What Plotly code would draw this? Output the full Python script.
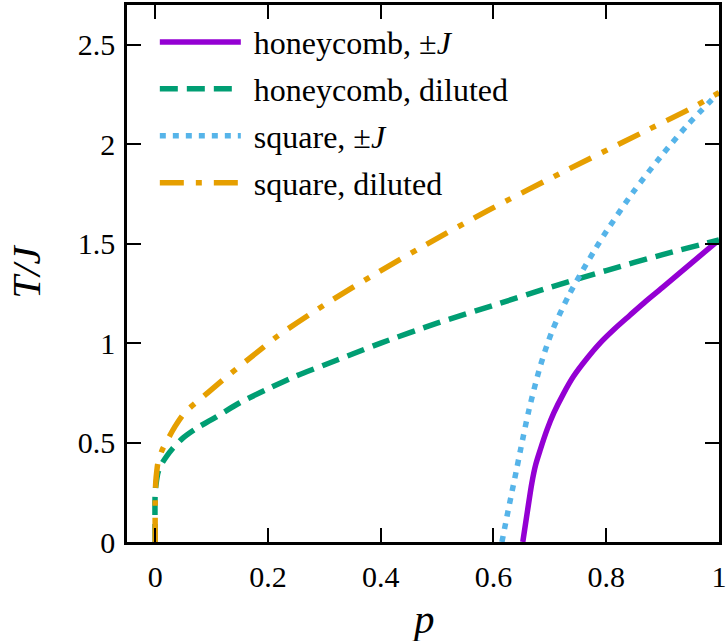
import plotly.graph_objects as go

# ---- data ----
p_hc_pm = [0.652, 0.660, 0.668, 0.675, 0.683, 0.695, 0.707, 0.724, 0.742, 0.765,
           0.789, 0.815, 0.842, 0.870, 0.900, 0.950, 1.0]
T_hc_pm = [0.0, 0.15, 0.296, 0.39, 0.464, 0.565, 0.649, 0.745, 0.833, 0.92,
           1.00, 1.072, 1.14, 1.21, 1.28, 1.40, 1.519]

p_hc_dil = [0.0, 0.0, 0.002, 0.005, 0.011, 0.02, 0.031, 0.05, 0.075, 0.1, 0.15,
            0.2, 0.25, 0.3, 0.35, 0.4, 0.5, 0.6, 0.7, 0.8, 0.9, 1.0]
T_hc_dil = [0.0, 0.25, 0.30, 0.35, 0.39, 0.43, 0.47, 0.525, 0.575, 0.615, 0.70,
            0.77, 0.835, 0.89, 0.945, 1.0, 1.10, 1.19, 1.28, 1.365, 1.445, 1.519]

p_sq_pm = [0.615, 0.624, 0.633, 0.641, 0.648, 0.663, 0.683, 0.704, 0.733, 0.754,
           0.780, 0.801, 0.848, 0.896, 0.943, 1.0]
T_sq_pm = [0.0, 0.13, 0.255, 0.365, 0.464, 0.665, 0.884, 1.06, 1.237, 1.345,
           1.47, 1.565, 1.76, 1.935, 2.093, 2.26]

p_sq_dil = [0.0, 0.0, 0.001, 0.003, 0.005, 0.012, 0.022, 0.035, 0.052, 0.093, 0.135,
            0.176, 0.217, 0.306, 0.394, 0.471, 0.589, 0.73, 0.872, 0.95, 1.0]
T_sq_dil = [0.0, 0.2, 0.3, 0.36, 0.40, 0.46, 0.514, 0.58, 0.649, 0.75, 0.85,
            0.943, 1.035, 1.203, 1.354, 1.48, 1.665, 1.87, 2.07, 2.18, 2.26]

names = ["honeycomb, ±<i>J</i>", "honeycomb, diluted", "square, ±<i>J</i>", "square, diluted"]
x_ticks = [0, 0.2, 0.4, 0.6, 0.8, 1]
y_ticks = [0, 0.5, 1, 1.5, 2, 2.5]

FONT = "Liberation Serif"
LW = 5.5

fig = go.Figure()
series = [
    (p_hc_pm, T_hc_pm, "#9400D3", "solid"),
    (p_hc_dil, T_hc_dil, "#009E73", "18px,9px"),
    (p_sq_pm, T_sq_pm, "#56B4E9", "6px,7px"),
    (p_sq_dil, T_sq_dil, "#E69F00", "24px,12px,6px,12px"),
]
for i, (xs, ys, col, dash) in enumerate(series):
    fig.add_trace(go.Scatter(x=xs, y=ys, mode="lines", name="\u00a0" + names[i],
                             legendgroup=f"g{i}",
                             line=dict(color=col, width=LW, dash=dash,
                                       shape="spline", smoothing=0.8)))

axis_common = dict(showline=True, linecolor="black", linewidth=2.5, mirror="allticks",
                   ticks="inside", ticklen=14, tickwidth=2, tickcolor="black",
                   showgrid=False, zeroline=False, automargin=False,
                   tickfont=dict(family=FONT, size=30, color="black"))

fig.update_xaxes(range=[-0.05, 1], tickvals=x_ticks, ticktext=[str(v) for v in x_ticks],
                 ticklabelstandoff=6, **axis_common)
fig.update_yaxes(range=[0, 2.7], tickvals=y_ticks, ticktext=[str(v) for v in y_ticks],
                 ticklabelstandoff=3, **axis_common)

fig.update_layout(
    width=728, height=641,
    margin=dict(l=127, r=9, t=5, b=99, autoexpand=False),
    plot_bgcolor="white", paper_bgcolor="white",
    font=dict(family=FONT, color="black"),
    legend=dict(x=0.047, y=0.982, xanchor="left", yanchor="top",
                bgcolor="rgba(0,0,0,0)", itemwidth=81, tracegroupgap=2.3,
                traceorder="grouped",
                font=dict(family=FONT, size=32, color="black")),
    annotations=[
        dict(text="<i>T/J</i>", x=-0.171, y=0.503, xref="paper", yref="paper",
             xanchor="center", yanchor="middle",
             showarrow=False, textangle=-90, font=dict(family=FONT, size=41, color="black")),
        dict(text="<i>p</i>", x=0.5, y=-0.143, xref="paper", yref="paper",
             xanchor="center", yanchor="middle",
             showarrow=False, font=dict(family=FONT, size=41, color="black")),
    ],
)

fig.write_html("out.html", config={"displayModeBar": False},
               post_script="document.body.style.margin='0';")
